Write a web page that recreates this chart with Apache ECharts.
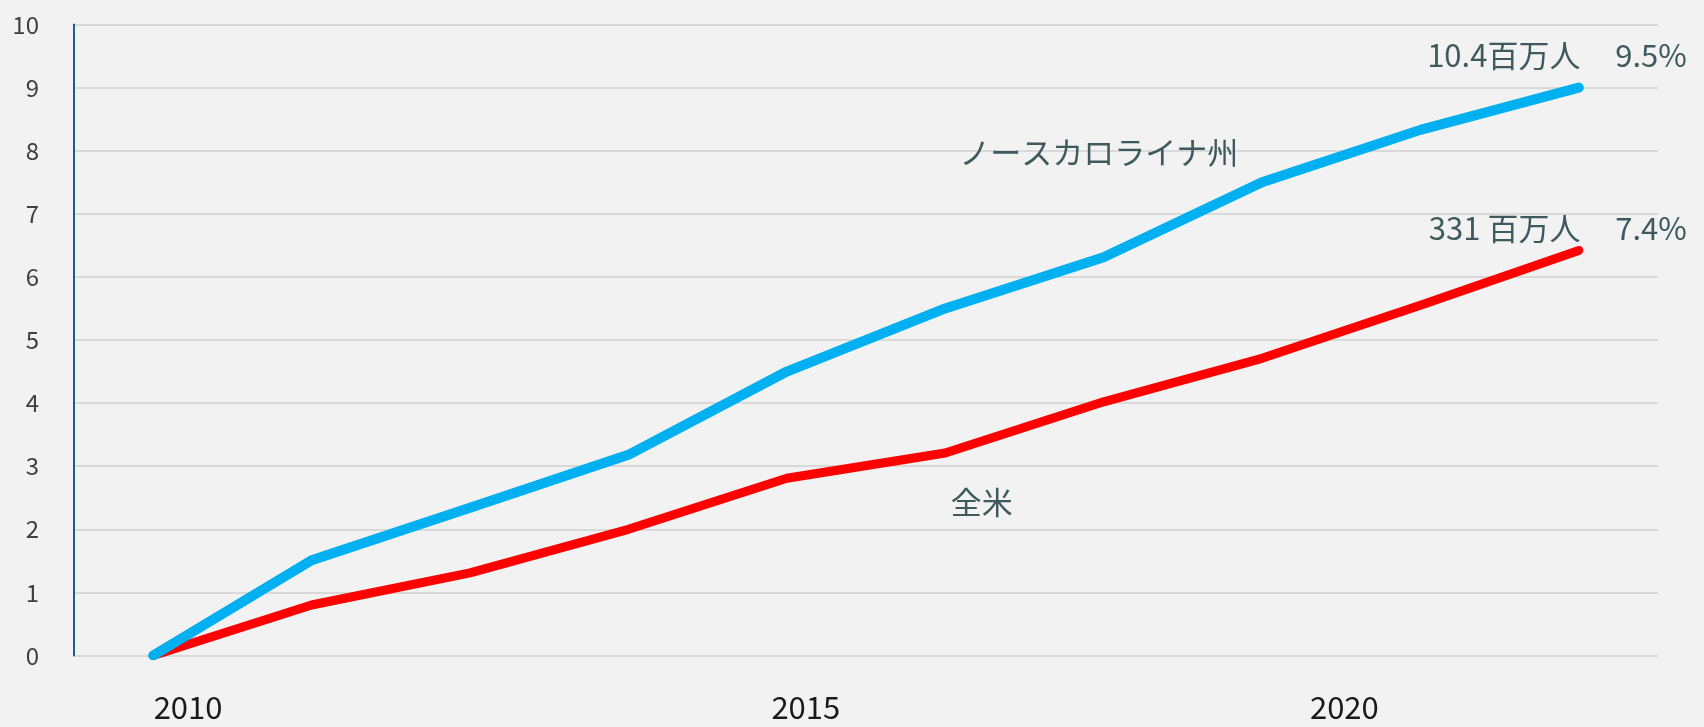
<!DOCTYPE html>
<html>
<head>
<meta charset="utf-8">
<script src="https://cdn.jsdelivr.net/npm/echarts@6/dist/echarts.min.js"></script>
<style>
  html, body { margin: 0; padding: 0; background: #f2f2f2; }
  #chart { width: 1704px; height: 727px; }
</style>
</head>
<body>
<div id="chart"></div>
<script>
  // 10 points, plotted by index
  var pointIndex = [0, 1, 2, 3, 4, 5, 6, 7, 8, 9];
  var ncValues = [0, 1.51, 2.34, 3.18, 4.5, 5.5, 6.31, 7.5, 8.33, 9.0];   // ノースカロライナ州
  var usValues = [0, 0.8, 1.31, 2.0, 2.81, 3.21, 4.02, 4.71, 5.55, 6.42];  // 全米

  // year labels and where they sit on the index scale (not under the points)
  var yearLabels = ['2010', '2015', '2020'];
  var yearLabelAt = [0.22, 4.12, 7.52];

  var ncName = 'ノースカロライナ州';
  var usName = '全米';
  var ncEnd = ['10.4百万人', '9.5%'];
  var usEnd = ['331 百万人', '7.4%'];

  var font = '"Noto Sans CJK JP", "Noto Sans", sans-serif';
  var noteColor = '#3f5a5e';

  function pairs(vals) {
    return pointIndex.map(function (x, i) { return [x, vals[i]]; });
  }

  function note(text, x, y, align) {
    return {
      name: text,
      coord: [x, y],
      symbol: 'circle',
      symbolSize: 0,
      label: {
        show: true,
        position: 'inside',
        align: align || 'center',
        verticalAlign: 'middle',
        formatter: '{b}',
        color: noteColor,
        fontSize: 31,
        fontFamily: font
      }
    };
  }

  var chart = echarts.init(document.getElementById('chart'));

  var option = {
    backgroundColor: '#f2f2f2',
    animation: false,
    grid: {
      left: 74,
      right: 46,
      top: 24.5,
      bottom: 71.5,
      containLabel: false
    },
    xAxis: {
      type: 'value',
      min: -0.5,
      max: 9.5,
      splitLine: { show: false },
      axisLine: { show: false },
      axisTick: { show: false },
      axisLabel: {
        customValues: yearLabelAt,
        margin: 36,
        color: '#1a1a1a',
        fontSize: 31,
        fontFamily: font,
        formatter: function (v) {
          var i = yearLabelAt.indexOf(v);
          return i >= 0 ? yearLabels[i] : '';
        }
      }
    },
    yAxis: {
      type: 'value',
      min: 0,
      max: 10,
      interval: 1,
      axisLine: { show: true, onZero: false, lineStyle: { color: '#2e5a8a', width: 2 } },
      axisTick: { show: false },
      splitLine: { lineStyle: { color: '#d9d9d9', width: 2 } },
      axisLabel: {
        margin: 35,
        color: '#404040',
        fontSize: 24,
        fontFamily: font,
        padding: [0, 0, 8, 0]
      }
    },
    series: [
      {
        name: usName,
        type: 'line',
        data: pairs(usValues),
        showSymbol: false,
        lineStyle: { color: '#ff0000', width: 9, cap: 'round', join: 'round' },
        itemStyle: { color: '#ff0000' },
        markPoint: {
          silent: true,
          data: [
            note(usName, 5.23, 2.43),
            note(usEnd[0], 9.01, 6.77, 'right'),
            note(usEnd[1], 9.23, 6.77, 'left')
          ]
        }
      },
      {
        name: ncName,
        type: 'line',
        data: pairs(ncValues),
        showSymbol: false,
        lineStyle: { color: '#00b0f0', width: 10, cap: 'round', join: 'round' },
        itemStyle: { color: '#00b0f0' },
        markPoint: {
          silent: true,
          data: [
            note(ncName, 5.97, 7.98),
            note(ncEnd[0], 9.01, 9.52, 'right'),
            note(ncEnd[1], 9.23, 9.52, 'left')
          ]
        }
      }
    ]
  };

  chart.setOption(option);
</script>
</body>
</html>
